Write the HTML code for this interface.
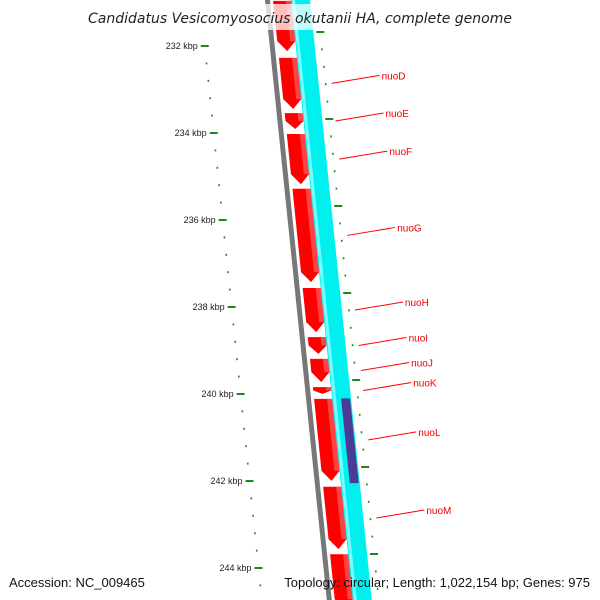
<!DOCTYPE html>
<html><head><meta charset="utf-8"><style>
body{margin:0;background:#fff}
svg{display:block;font-family:"Liberation Sans","DejaVu Sans",sans-serif}
</style></head><body>
<svg id="map" width="600" height="600" viewBox="0 0 600 600" xmlns="http://www.w3.org/2000/svg">
<g id="tracks"></g>
<g id="ticks"></g>
<g id="labels"></g>
<rect x="90" y="4" width="420" height="26" fill="#fff" opacity="0.75"/>
<text x="300" y="23" text-anchor="middle" font-size="14" font-style="italic" fill="#222" font-family="DejaVu Sans, sans-serif">Candidatus Vesicomyosocius okutanii HA, complete genome</text>
<text x="9" y="587" font-size="13" fill="#111">Accession: NC_009465</text>
<text x="590" y="587" text-anchor="end" font-size="13" fill="#111">Topology: circular; Length: 1,022,154 bp; Genes: 975</text>
</svg>
<script>
const NS="http://www.w3.org/2000/svg";
// data
const kbpMajor=[232,234,236,238,240,242,244];
const geneNames=["nuoD","nuoE","nuoF","nuoG","nuoH","nuoI","nuoJ","nuoK","nuoL","nuoM"];
const geneStartKbp=[232.25,233.52,234.0,235.26,237.54,238.67,239.17,239.82,240.09,242.11];
const geneEndKbp=[233.47,233.93,235.2,237.45,238.6,239.1,239.75,240.02,242.02,243.59];
const extraGenes=[[230.94,232.14],[243.66,244.97]];
const purpleKbp=[240.1,242.05];
// axis: kbp -> y
function yOf(k){return 46+(k-232)*43.5;}
function xOf(y,off){return 265+off+0.103*y;}
function mk(tag,attrs,parent){const e=document.createElementNS(NS,tag);for(const k in attrs)e.setAttribute(k,attrs[k]);parent.appendChild(e);return e;}
const T=document.getElementById('tracks'),K=document.getElementById('ticks'),L=document.getElementById('labels');
function band(y1,y2,o1,o2,fill,parent){
  return mk('polygon',{points:`${xOf(y1,o1)},${y1} ${xOf(y1,o2)},${y1} ${xOf(y2,o2)},${y2} ${xOf(y2,o1)},${y2}`,fill:fill},parent);
}
let g=band(-5,605,0,5,'#777',T);


let c=band(-5,605,26,45,'#00f0f0',T);


band(-5,605,27,30,'#7ff',T);
const py1=yOf(purpleKbp[0]),py2=yOf(purpleKbp[1]);
let p=band(py1,py2,35,44,'#4a3c96',T);


function arrow(k1,k2,name){
  const y1=yOf(k1)+1,y2=yOf(k2)-1,tip=Math.min(10,(y2-y1)/2);
  const ym=y2-tip;
  const pts=[[xOf(y1,8),y1],[xOf(y1,26),y1],[xOf(ym,26),ym],[xOf(y2,17),y2],[xOf(ym,8),ym]];
  const e=mk('polygon',{points:pts.map(q=>q.join(',')).join(' '),fill:'#ff0000'},T);
  
  
  mk('polygon',{points:`${xOf(y1,21)},${y1} ${xOf(y1,26)},${y1} ${xOf(ym,26)},${ym} ${xOf(ym,21)},${ym}`,fill:'#ff7070',opacity:0.6},T);
}
geneNames.forEach((n,i)=>arrow(geneStartKbp[i],geneEndKbp[i],'gene-'+n));
extraGenes.forEach((r,i)=>arrow(r[0],r[1],'gene-extra-'+i));
// ticks
for(let k=230;k<=245.01;k+=0.4){
  const y=yOf(k);
  const maj=Math.abs(k/2-Math.round(k/2))<0.01;
  if(y>=30&&y<=600){
    const xl=xOf(y,-65);
    const t=mk('line',{x1:xl-(maj?4:0.8),y1:y,x2:xl+(maj?4:0.8),y2:y,stroke:'#1a8a1a','stroke-width':2},K);
    
    
  }
  const yr=y-14;
  if(yr>=30&&yr<=600){
    const xr=xOf(yr,52);
    const t2=mk('line',{x1:xr-(maj?4:0.8),y1:yr,x2:xr+(maj?4:0.8),y2:yr,stroke:'#1a8a1a','stroke-width':2},K);
    
    
  }
}
kbpMajor.forEach(k=>{
  const y=yOf(k);
  const t=mk('text',{x:xOf(y,-72),y:y+3,'text-anchor':'end','font-size':9,fill:'#222'},K);
  t.textContent=k+' kbp';
  
  
});
// gene labels
geneNames.forEach((n,i)=>{
  const ym=(yOf(geneStartKbp[i])+yOf(geneEndKbp[i]))/2;
  const ly=ym-8;
  const x0=xOf(ym,58),x1=x0+48;
  const ln=mk('line',{x1:x0,y1:ym,x2:x1,y2:ly,stroke:'#f00','stroke-width':1},L);
  
  
  const t=mk('text',{x:x1+2,y:ly+4,'font-size':10,fill:'#e00'},L);
  t.textContent=n;
  
  
});
</script>
</body></html>
